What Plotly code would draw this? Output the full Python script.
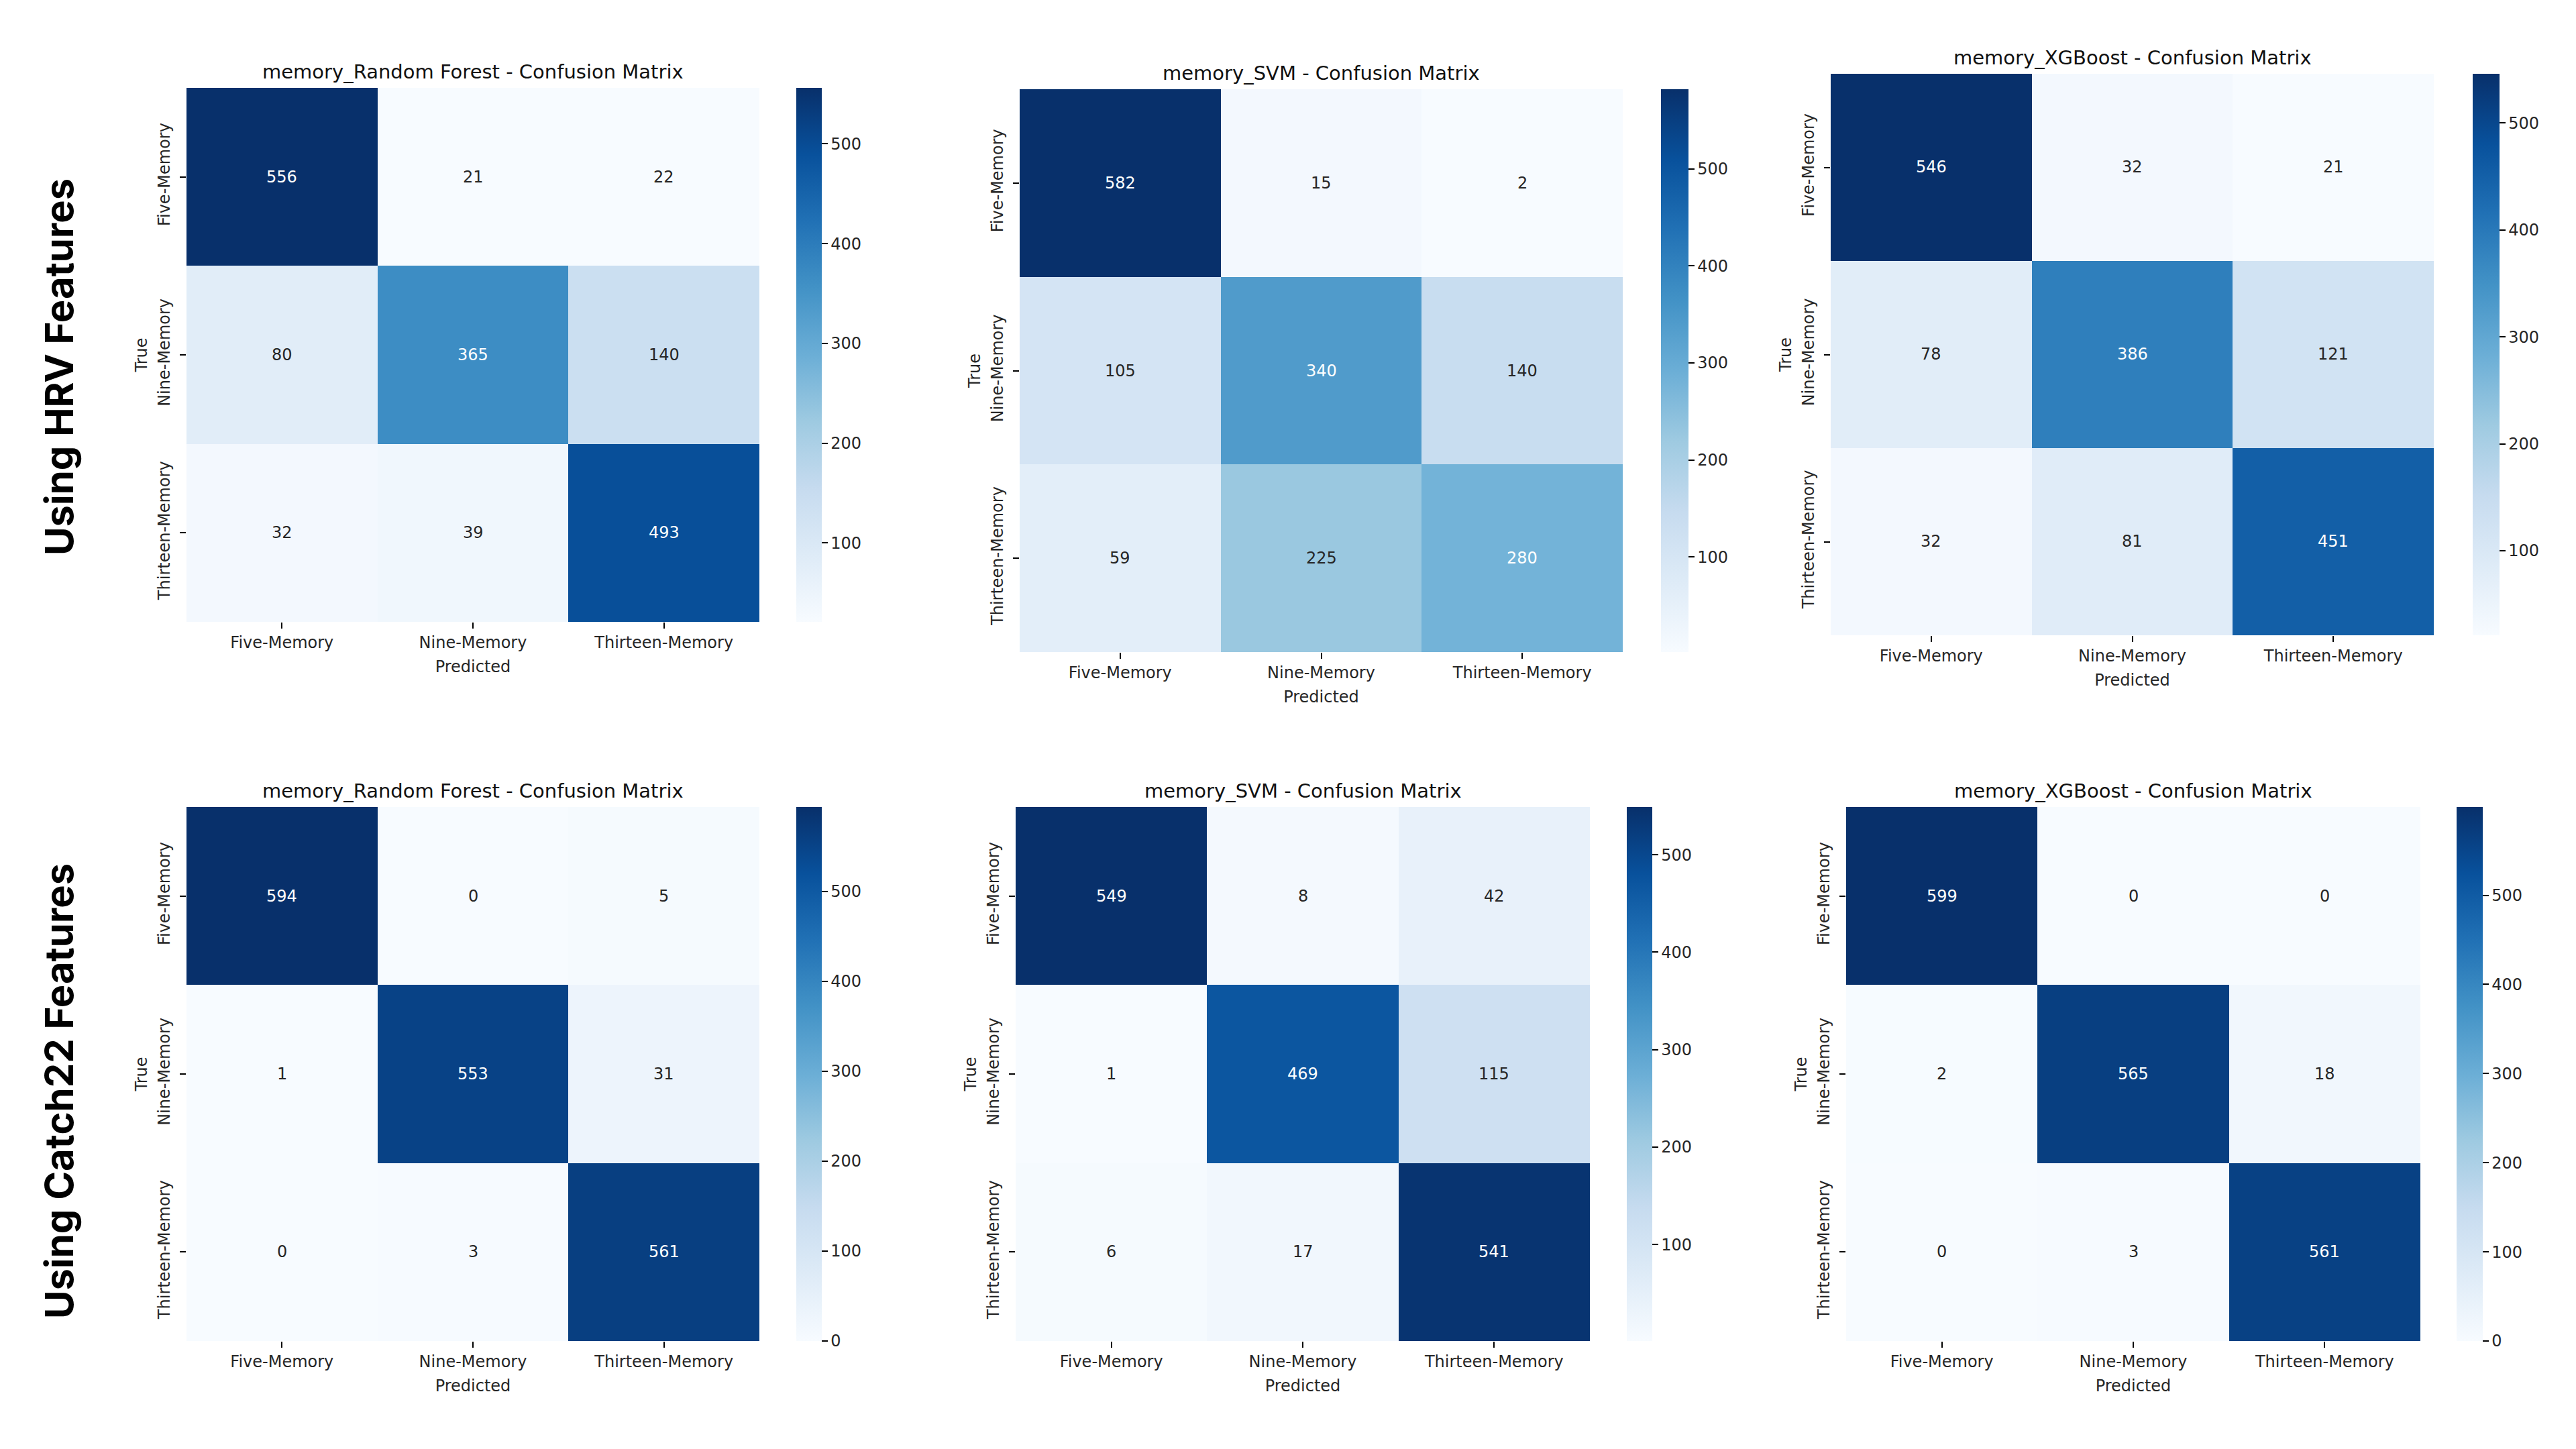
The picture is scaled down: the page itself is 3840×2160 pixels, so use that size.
import plotly.graph_objects as go

# ---------------- data ----------------
classes = ["Five-Memory", "Nine-Memory", "Thirteen-Memory"]
model_titles = [
    "memory_Random Forest - Confusion Matrix",
    "memory_SVM - Confusion Matrix",
    "memory_XGBoost - Confusion Matrix",
]
row_labels = ["Using HRV Features", "Using Catch22 Features"]

hrv_rf = [[556, 21, 22], [80, 365, 140], [32, 39, 493]]
hrv_svm = [[582, 15, 2], [105, 340, 140], [59, 225, 280]]
hrv_xgb = [[546, 32, 21], [78, 386, 121], [32, 81, 451]]
c22_rf = [[594, 0, 5], [1, 553, 31], [0, 3, 561]]
c22_svm = [[549, 8, 42], [1, 469, 115], [6, 17, 541]]
c22_xgb = [[599, 0, 0], [2, 565, 18], [0, 3, 561]]

matrices = [hrv_rf, hrv_svm, hrv_xgb, c22_rf, c22_svm, c22_xgb]
titles = model_titles * 2

# ---------------- layout geometry (pixels in the 3840x2160 page) ----------------
PAGE_W, PAGE_H = 3840, 2160
OFF = 8  # default page body margin
W, H = PAGE_W - 2 * OFF, PAGE_H - 2 * OFF
# heatmap left, top, right, bottom, colorbar left, colorbar right
boxes = [
    (278, 131, 1132, 927, 1187, 1225),
    (1520, 133, 2419, 972, 2476, 2517),
    (2729, 110, 3628, 947, 3686, 3726),
    (278, 1203, 1132, 1999, 1187, 1225),
    (1514, 1203, 2370, 1999, 2425, 2463),
    (2752, 1203, 3608, 1999, 3662, 3701),
]
row_label_pos = [(88, 547), (88, 1627)]


def fx(px):
    return (px - OFF) / W


def fy(py):
    return 1 - (py - OFF) / H


blues = [
    (247, 251, 255), (222, 235, 247), (198, 219, 239), (158, 202, 225),
    (107, 174, 214), (66, 146, 198), (33, 113, 181), (8, 81, 156), (8, 48, 107),
]
colorscale = [[i / (len(blues) - 1), "rgb(%d,%d,%d)" % c] for i, c in enumerate(blues)]


def cmap(frac):
    frac = min(max(frac, 0.0), 1.0)
    pos = frac * (len(blues) - 1)
    i = min(int(pos), len(blues) - 2)
    t = pos - i
    return tuple((blues[i][k] * (1 - t) + blues[i + 1][k] * t) / 255.0 for k in range(3))


def luminance(rgb):
    lin = [c / 12.92 if c <= 0.03928 else ((c + 0.055) / 1.055) ** 2.4 for c in rgb]
    return 0.2126 * lin[0] + 0.7152 * lin[1] + 0.0722 * lin[2]


TXT = "#262626"
FONT = "DejaVu Sans"
FS = 24
fig = go.Figure()
annotations = []
layout_axes = {}

for n, (m, title, box) in enumerate(zip(matrices, titles, boxes), start=1):
    l, t, r, b, cl, cr = box
    flat = [v for row in m for v in row]
    zmin, zmax = min(flat), max(flat)
    xa = "x" if n == 1 else "x%d" % n
    ya = "y" if n == 1 else "y%d" % n
    fig.add_trace(go.Heatmap(
        z=m, x=classes, y=classes, xaxis=xa, yaxis=ya,
        colorscale=colorscale, zmin=zmin, zmax=zmax,
        hoverinfo="skip", xgap=0, ygap=0,
        colorbar=dict(
            x=fx(cl), xanchor="left", xpad=0,
            y=fy(t), yanchor="top", ypad=0,
            len=(b - t) / H, lenmode="fraction",
            thickness=cr - cl, thicknessmode="pixels",
            outlinewidth=0, ticks="outside", ticklen=9, tickwidth=2,
            tickcolor="#000", tick0=0, dtick=100,
            tickfont=dict(family=FONT, size=FS, color=TXT),
        ),
    ))
    layout_axes["xaxis" if n == 1 else "xaxis%d" % n] = dict(
        domain=[fx(l), fx(r)], anchor=ya, showgrid=False, zeroline=False,
        showline=False, ticks="outside", ticklen=9, tickwidth=2, tickcolor="#000",
        tickfont=dict(family=FONT, size=FS, color=TXT),
        title=dict(text="Predicted", font=dict(family=FONT, size=FS, color=TXT), standoff=14),
        automargin=False, fixedrange=True,
    )
    layout_axes["yaxis" if n == 1 else "yaxis%d" % n] = dict(
        domain=[fy(b), fy(t)], anchor=xa, showgrid=False, zeroline=False,
        showline=False, autorange="reversed", tickangle=-90,
        ticks="outside", ticklen=9, tickwidth=2, tickcolor="#000",
        ticklabelstandoff=5,
        tickfont=dict(family=FONT, size=FS, color=TXT),
        title=dict(text="True", font=dict(family=FONT, size=FS, color=TXT), standoff=5),
        automargin=False, fixedrange=True,
    )
    # cell annotations
    for i, row in enumerate(m):
        for j, v in enumerate(row):
            frac = (v - zmin) / (zmax - zmin)
            col = TXT if luminance(cmap(frac)) > 0.408 else "#ffffff"
            annotations.append(dict(
                x=classes[j], y=classes[i], xref=xa, yref=ya, text=str(v),
                showarrow=False, font=dict(family=FONT, size=FS, color=col),
            ))
    # subplot title
    annotations.append(dict(
        x=fx((l + r) / 2), y=fy(t - 24), xref="paper", yref="paper",
        text=title, showarrow=False, xanchor="center", yanchor="middle",
        font=dict(family=FONT, size=29, color="#111"),
    ))

for label, (px, py) in zip(row_labels, row_label_pos):
    annotations.append(dict(
        x=fx(px), y=fy(py), xref="paper", yref="paper", text=label,
        showarrow=False, textangle=-90, xanchor="center", yanchor="middle",
        font=dict(family="Inter", size=58, color="#000", weight=700),
    ))

fig.update_layout(
    width=W, height=H, autosize=False,
    margin=dict(l=0, r=0, t=0, b=0),
    paper_bgcolor="white", plot_bgcolor="white",
    annotations=annotations, showlegend=False,
    **layout_axes,
)

fig.write_html("out.html")
